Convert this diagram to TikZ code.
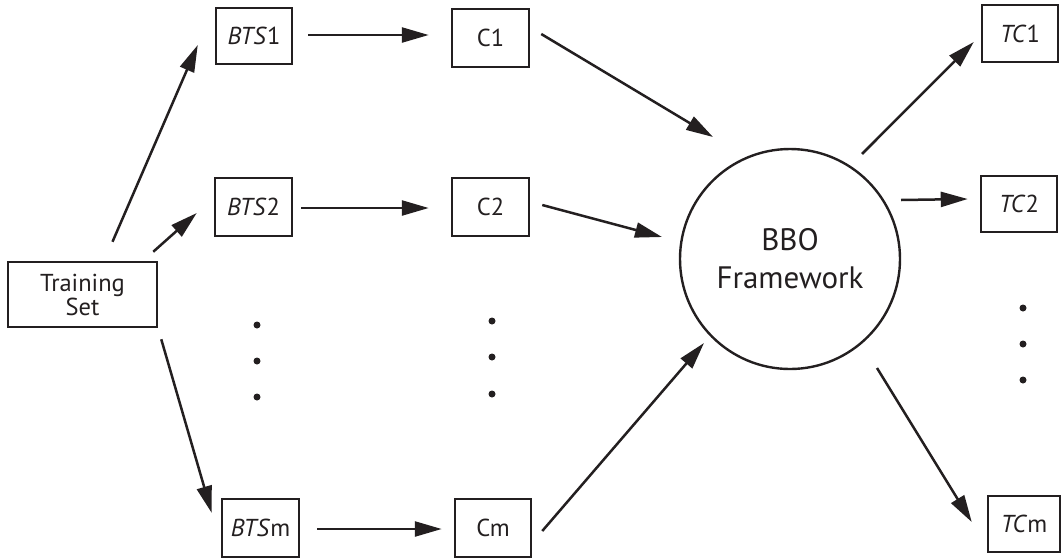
\documentclass[tikz,border=0pt]{standalone}
\usepackage{fontspec}
\setmainfont{PT Sans}
\usetikzlibrary{arrows.meta}
\definecolor{ink}{HTML}{231F20}
\tikzset{
  box/.style={draw=ink, line width=2.5pt, rectangle, inner sep=0pt, text=ink,
    font=\fontsize{24.5}{28}\selectfont, align=center},
  arr/.style={draw=ink, line width=2.5pt, -{Triangle[length=27pt,width=15pt]}},
  dotc/.style={fill=ink, circle, inner sep=0pt, minimum size=7pt},
}
\begin{document}
\begin{tikzpicture}[x=1pt,y=-1pt]
\useasboundingbox (0,0) rectangle (1061,558);
\node[box, minimum width=149pt, minimum height=65pt] (ts) at (82.5,294.5) {Training\\[-4pt]Set};
\node[box, minimum width=76pt, minimum height=56pt] (bts1) at (254,36) {\textit{BTS}1};
\node[box, minimum width=77pt, minimum height=58pt] (bts2) at (253.5,207) {\textit{BTS}2};
\node[box, minimum width=77pt, minimum height=58pt] (btsm) at (260.5,528) {\textit{BTS}m};
\node[box, minimum width=77pt, minimum height=58pt] (c1) at (490.5,38) {C1};
\node[box, minimum width=77pt, minimum height=58pt] (c2) at (490.5,207) {C2};
\node[box, minimum width=76pt, minimum height=58pt] (cm) at (493,528) {Cm};
\node[draw=ink, line width=2.4pt, circle, minimum size=220pt, inner sep=0pt, text=ink,
  align=center, font=\fontsize{31}{38}\selectfont] (bbo) at (790,259) {BBO\\Framework};
\node[box, minimum width=76pt, minimum height=57pt] (tc1) at (1020,33.5) {\textit{TC}1};
\node[box, minimum width=76pt, minimum height=56pt] (tc2) at (1019,204) {\textit{TC}2};
\node[box, minimum width=72pt, minimum height=56pt] (tcm) at (1024,524) {\textit{TC}m};
% dots
\node[dotc] (d1) at (257,325) {};
\node[dotc] (d2) at (257,361) {};
\node[dotc] (d3) at (257,397) {};
\node[dotc] (d4) at (492,321) {};
\node[dotc] (d5) at (492,357) {};
\node[dotc] (d6) at (492,394) {};
\node[dotc] (d7) at (1023,308) {};
\node[dotc] (d8) at (1023,344) {};
\node[dotc] (d9) at (1023,380) {};
% connectors
\draw[arr] ([shift={(30,-19)}]ts.north) -- ([shift={(-17,9)}]bts1.west);
\draw[arr] ([shift={(-5,-9)}]ts.north east) -- ([shift={(-17,6)}]bts2.west);
\draw[arr] ([shift={(3,11)}]ts.south east) -- ([shift={(-9,-15)}]btsm.west);
\draw[arr] ([shift={(15,-1)}]bts1.east) -- ([shift={(-22,-3)}]c1.west);
\draw[arr] ([shift={(8,1)}]bts2.east) -- ([shift={(-22,1)}]c2.west);
\draw[arr] ([shift={(17,1)}]btsm.east) -- ([shift={(-12,1)}]cm.west);
\draw[arr] ([shift={(11,-4)}]c1.east) -- ([shift={(-77,-122)}]bbo.center);
\draw[arr] ([shift={(12,-2)}]c2.east) -- ([shift={(-128,-22)}]bbo.center);
\draw[arr] ([shift={(10,3)}]cm.east) -- ([shift={(-86,84)}]bbo.center);
\draw[arr] ([shift={(72,-105)}]bbo.center) -- ([shift={(-7,8.5)}]tc1.west);
\draw[arr] ([shift={(111,-59)}]bbo.center) -- ([shift={(-12,-5)}]tc2.west);
\draw[arr] ([shift={(87,109)}]bbo.center) -- ([shift={(-15,-2)}]tcm.west);
\end{tikzpicture}
\end{document}
